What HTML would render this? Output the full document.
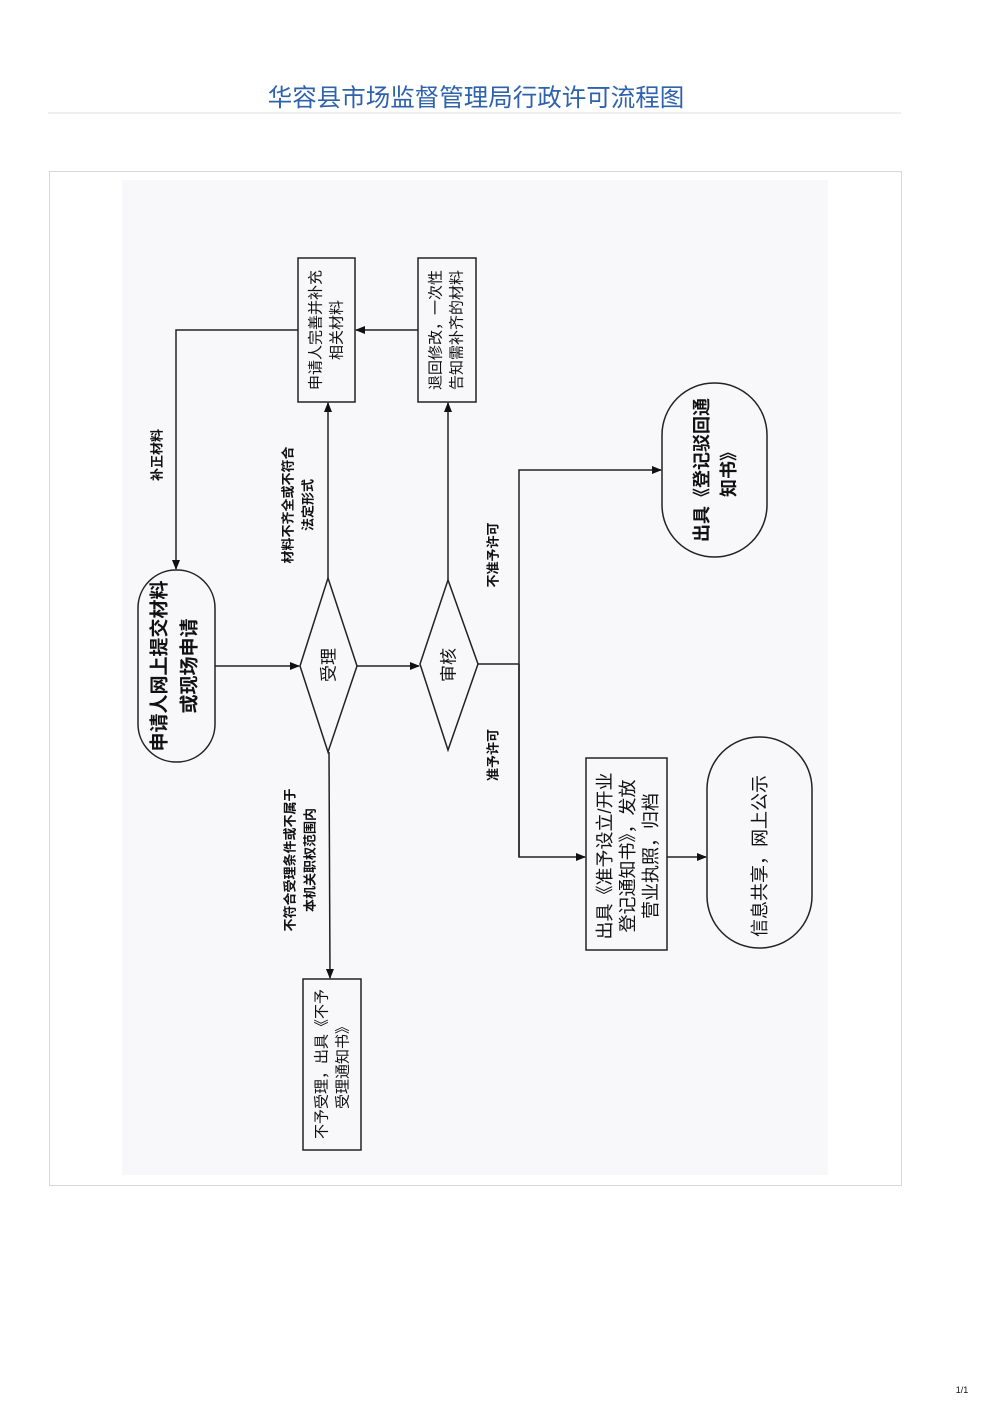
<!DOCTYPE html>
<html><head><meta charset="utf-8"><style>
html,body{margin:0;padding:0;background:#fff;}
svg{display:block;}
text{font-family:"Liberation Sans","Noto Sans CJK SC",sans-serif;fill:#111;}
</style></head><body>
<svg width="1000" height="1413" viewBox="0 0 1000 1413" xmlns="http://www.w3.org/2000/svg">
<defs><marker id="a" markerWidth="10" markerHeight="8" refX="9" refY="4" orient="auto" markerUnits="userSpaceOnUse"><path d="M0,0 L10,4 L0,8 z" fill="#111"/></marker></defs>
<text x="476" y="106" text-anchor="middle" font-size="24.5" style="fill:#2f62ad">华容县市场监督管理局行政许可流程图</text>
<line x1="48" y1="113" x2="901" y2="113" stroke="#e2e2e2" stroke-width="1"/>
<rect x="49.5" y="171.5" width="852" height="1014" fill="#fff" stroke="#d8d8d8"/>
<rect x="122" y="180" width="706" height="995" fill="#f8f8fa"/>
<g fill="none" stroke="#222" stroke-width="1.5">
<rect x="138" y="570" width="77" height="192" rx="38"/>
<polygon points="328,578 357,666 328,752 300,666"/>
<polygon points="448,580 478,664 448,750 420,664"/>
<rect x="298" y="258" width="57" height="144"/>
<rect x="418" y="258" width="58" height="144"/>
<rect x="662" y="383" width="105" height="174" rx="52"/>
<rect x="586" y="758" width="81" height="192"/>
<rect x="707" y="737" width="105" height="211" rx="52"/>
<rect x="303" y="979" width="58" height="171"/>
<line x1="215" y1="666" x2="299" y2="666" marker-end="url(#a)"/>
<line x1="357" y1="666" x2="419" y2="666" marker-end="url(#a)"/>
<line x1="328" y1="578" x2="328" y2="403" marker-end="url(#a)"/>
<line x1="448" y1="580" x2="448" y2="403" marker-end="url(#a)"/>
<line x1="418" y1="330" x2="356" y2="330" marker-end="url(#a)"/>
<polyline points="298,330 176,330 176,569" marker-end="url(#a)"/>
<polyline points="478,664 519,664"/>
<polyline points="519,857 519,470 661,470" marker-end="url(#a)"/>
<polyline points="519,664 519,857 585,857" marker-end="url(#a)"/>
<line x1="667" y1="857" x2="706" y2="857" marker-end="url(#a)"/>
<line x1="329" y1="752" x2="330" y2="978" marker-end="url(#a)"/>
</g>
<g dominant-baseline="central" text-anchor="middle">
<text transform="translate(160,666) rotate(-90)" font-size="19" font-weight="bold">申请人网上提交材料</text>
<text transform="translate(190,666) rotate(-90)" font-size="19" font-weight="bold">或现场申请</text>
<text transform="translate(329,665) rotate(-90)" font-size="17">受理</text>
<text transform="translate(449,665) rotate(-90)" font-size="17">审核</text>
<text transform="translate(316,330) rotate(-90)" font-size="15">申请人完善并补充</text>
<text transform="translate(337,330) rotate(-90)" font-size="15">相关材料</text>
<text transform="translate(436,330) rotate(-90)" font-size="15">退回修改，一次性</text>
<text transform="translate(457,330) rotate(-90)" font-size="15">告知需补齐的材料</text>
<text transform="translate(702,470) rotate(-90)" font-size="18" font-weight="bold">出具《登记驳回通</text>
<text transform="translate(729,470) rotate(-90)" font-size="18" font-weight="bold">知书》</text>
<text transform="translate(605,856) rotate(-90)" font-size="18">出具《准予设立/开业</text>
<text transform="translate(628,856) rotate(-90)" font-size="18">登记通知书》，发放</text>
<text transform="translate(651,856) rotate(-90)" font-size="18">营业执照，归档</text>
<text transform="translate(760,856) rotate(-90)" font-size="18">信息共享，网上公示</text>
<text transform="translate(322,1064) rotate(-90)" font-size="15">不予受理，出具《不予</text>
<text transform="translate(343,1064) rotate(-90)" font-size="15">受理通知书》</text>
<g font-weight="600">
<text transform="translate(157,455) rotate(-90)" font-size="13">补正材料</text>
<text transform="translate(288,505) rotate(-90)" font-size="13">材料不齐全或不符合</text>
<text transform="translate(308,505) rotate(-90)" font-size="13">法定形式</text>
<text transform="translate(493,555) rotate(-90)" font-size="13">不准予许可</text>
<text transform="translate(493,755) rotate(-90)" font-size="13">准予许可</text>
<text transform="translate(290,860) rotate(-90)" font-size="13">不符合受理条件或不属于</text>
<text transform="translate(310,860) rotate(-90)" font-size="13">本机关职权范围内</text>
</g>
</g>
<text x="962" y="1393" font-size="9" text-anchor="middle">1/1</text>
</svg>
</body></html>
